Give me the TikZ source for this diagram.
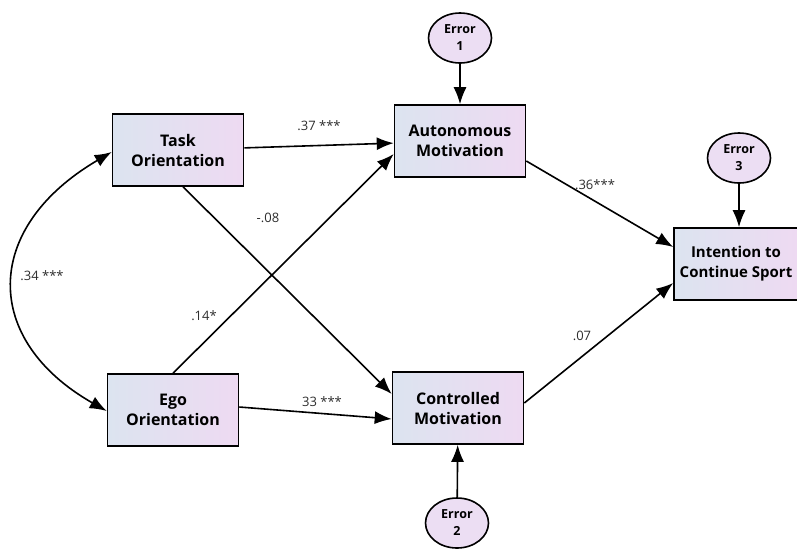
\documentclass[tikz,border=0pt]{standalone}
\usepackage{fontspec}
\setmainfont{Open Sans}
\usepackage{xcolor}
\usetikzlibrary{arrows.meta,shapes.geometric}

\definecolor{boxleft}{RGB}{220,228,240}
\definecolor{boxright}{RGB}{238,218,242}
\definecolor{errfill}{RGB}{236,222,243}
\definecolor{coef}{RGB}{45,45,45}

\begin{document}
\begin{tikzpicture}[x=1pt,y=-1pt,
  var/.style={draw,line width=1.6pt,minimum width=131pt,minimum height=72pt,
    left color=boxleft,right color=boxright,align=center,
    font=\bfseries\fontsize{16}{20}\selectfont},
  err/.style={draw,ellipse,line width=1.6pt,fill=errfill,minimum width=63pt,
    minimum height=50pt,inner sep=0pt,align=center,
    font=\bfseries\fontsize{12.5}{17}\selectfont},
  path/.style={line width=1.6pt,-{Latex[length=17pt,width=13pt]}},
  coeff/.style={text=coef,font=\fontsize{13}{15}\selectfont,inner sep=1pt}]
\useasboundingbox (0,0) rectangle (797,550);

\node[var] (task) at (178,150) {Task\\Orientation};
\node[var] (ego) at (173,410) {Ego\\Orientation};
\node[var] (auto) at (460,141) {Autonomous\\Motivation};
\node[var] (ctrl) at (458,408) {Controlled\\Motivation};
\node[var,minimum width=124pt,inner xsep=2pt,font=\bfseries\fontsize{15}{20}\selectfont]
  (int) at (736,264) {Intention to\\Continue Sport};

\node[err] (e1) at (460,38) {Error\\1};
\node[err] (e2) at (457,523) {Error\\2};
\node[err] (e3) at (739,158) {Error\\3};

\draw[path] (e1) -- (auto);
\draw[path] (e2) -- (ctrl);
\draw[path] (e3) -- (e3 |- int.north);

\draw[path] (task) -- (auto);
\draw[path] ([xshift=5pt]task.south) -- ([yshift=14pt]ctrl.west);
\draw[path] (ego.north) -- ([yshift=-13pt]auto.west);
\draw[path] ([yshift=3pt]ego.east) -- ([yshift=-11pt]ctrl.west);
\draw[path] ([yshift=-20pt]auto.east) -- ([yshift=17pt]int.west);
\draw[path] ([yshift=5pt]ctrl.east) -- ([yshift=-19pt]int.west);
\draw[line width=1.6pt,{Latex[length=17pt,width=13pt]}-{Latex[length=17pt,width=13pt]}]
  ([yshift=-2pt]task.west) .. controls (-18,228) and (-18,340) .. ([yshift=-1pt]ego.west);

\node[coeff] (c1) at (319,126) {.37 ***};
\node[coeff] (c2) at (268,218) {-.08};
\node[coeff] (c3) at (204,316) {.14*};
\node[coeff] (c4) at (322,402) {33 ***};
\node[coeff] (c5) at (595,185) {.36***};
\node[coeff] (c6) at (582,336) {.07};
\node[coeff] (c7) at (42,276) {.34 ***};
\end{tikzpicture}
\end{document}
